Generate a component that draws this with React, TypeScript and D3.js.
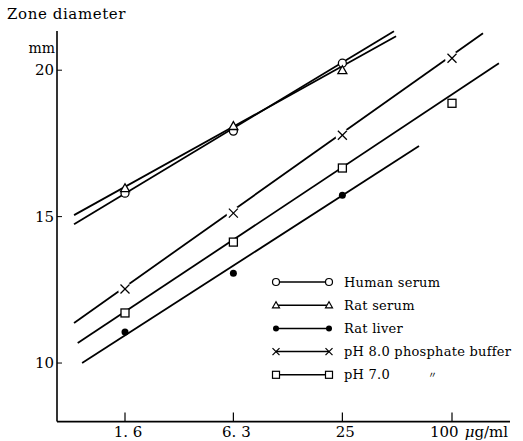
import React from "react";
import * as d3 from "d3";

// ---- data ----
const xTickValues = [1.6, 6.3, 25, 100];
const xTickLabels = ["1. 6", "6. 3", "25", "100"];
const yTickValues = [10, 15, 20];

const concentrations = [1.6, 6.3, 25, 100];
const humanSerum = [15.8, 17.92, 20.24];
const ratSerum = [15.97, 18.09, 20.0];
const ratLiver = [11.06, 13.07, 15.73];
const ph8Buffer = [12.53, 15.12, 17.78, 20.41];
const ph7Buffer = [11.71, 14.13, 16.66, 18.87];

// fitted (hand-drawn) regression lines: [concentration, diameter]
const humanSerumFit: [number, number][] = [[0.84, 14.74], [48, 21.33]];
const ratSerumFit: [number, number][] = [[0.84, 15.05], [49.3, 21.16]];
const ratLiverFit: [number, number][] = [[0.93, 10.0], [65.9, 17.41]];
const ph8Fit: [number, number][] = [[0.84, 11.37], [148, 21.26]];
const ph7Fit: [number, number][] = [[0.88, 10.68], [181, 20.24]];

const seriesNames = ["Human serum", "Rat serum", "Rat liver", "pH 8.0 phosphate buffer", "pH 7.0"];

type Marker = "circle" | "triangle" | "dot" | "cross" | "square";

const series: { name: string; values: number[]; fit: [number, number][]; marker: Marker }[] = [
  { name: seriesNames[0], values: humanSerum, fit: humanSerumFit, marker: "circle" },
  { name: seriesNames[1], values: ratSerum, fit: ratSerumFit, marker: "triangle" },
  { name: seriesNames[2], values: ratLiver, fit: ratLiverFit, marker: "dot" },
  { name: seriesNames[3], values: ph8Buffer, fit: ph8Fit, marker: "cross" },
  { name: seriesNames[4], values: ph7Buffer, fit: ph7Fit, marker: "square" },
];

const W = 523;
const H = 441;
const FONT = "'DejaVu Serif', 'Liberation Serif', serif";

const x = d3.scaleLog().domain([1.6, 100]).range([125, 452]);
const y = d3.scaleLinear().domain([8, 20]).range([421.6, 70.2]);

const axisLeft = 57;
const axisRight = 510;
const axisBottom = y(8);
const axisTop = 31;

function MarkerShape({ type, cx, cy }: { type: Marker; cx: number; cy: number }) {
  const sw = 1.3;
  switch (type) {
    case "circle":
      return <circle cx={cx} cy={cy} r={4} fill="#fff" stroke="#000" strokeWidth={sw} />;
    case "triangle": {
      const s = 4.5;
      const p = `${cx},${cy - s} ${cx - s},${cy + s * 0.75} ${cx + s},${cy + s * 0.75}`;
      return <polygon points={p} fill="#fff" stroke="#000" strokeWidth={sw} />;
    }
    case "dot":
      return <circle cx={cx} cy={cy} r={3.5} fill="#000" />;
    case "cross": {
      const s = 4.5;
      return (
        <g stroke="#000" strokeWidth={sw}>
          <circle cx={cx} cy={cy} r={7} fill="#fff" stroke="none" />
          <line x1={cx - s} y1={cy - s} x2={cx + s} y2={cy + s} />
          <line x1={cx - s} y1={cy + s} x2={cx + s} y2={cy - s} />
        </g>
      );
    }
    case "square":
      return <rect x={cx - 4} y={cy - 4} width={8} height={8} fill="#fff" stroke="#000" strokeWidth={sw} />;
  }
}

function LegendMarker({ type, cx, cy }: { type: Marker; cx: number; cy: number }) {
  const sw = 1.2;
  switch (type) {
    case "circle":
      return <circle cx={cx} cy={cy} r={3.5} fill="#fff" stroke="#000" strokeWidth={sw} />;
    case "triangle": {
      const s = 3.5;
      const p = `${cx},${cy - s} ${cx - s},${cy + s * 0.75} ${cx + s},${cy + s * 0.75}`;
      return <polygon points={p} fill="#fff" stroke="#000" strokeWidth={sw} />;
    }
    case "dot":
      return <circle cx={cx} cy={cy} r={3} fill="#000" />;
    case "cross": {
      const s = 3.5;
      return (
        <g stroke="#000" strokeWidth={sw}>
          <line x1={cx - s} y1={cy - s} x2={cx + s} y2={cy + s} />
          <line x1={cx - s} y1={cy + s} x2={cx + s} y2={cy - s} />
        </g>
      );
    }
    case "square":
      return <rect x={cx - 3.5} y={cy - 3.5} width={7} height={7} fill="#fff" stroke="#000" strokeWidth={sw} />;
  }
}

export default function App() {
  const line = d3
    .line<[number, number]>()
    .x((d) => x(d[0]))
    .y((d) => y(d[1]));

  const legendX1 = 276;
  const legendX2 = 329;
  const legendTextX = 344;
  const legendY0 = 282;
  const legendDy = 23.2;

  return (
    <svg
      width={W}
      height={H}
      viewBox={`0 0 ${W} ${H}`}
      style={{ position: "absolute", left: 0, top: 0, background: "#fff" }}
    >
      <rect width={W} height={H} fill="#fff" />

      {/* axes */}
      <line x1={axisLeft} y1={axisTop} x2={axisLeft} y2={axisBottom} stroke="#000" strokeWidth={1.6} />
      <line x1={axisLeft} y1={axisBottom} x2={axisRight} y2={axisBottom} stroke="#000" strokeWidth={1.8} />

      {/* y ticks */}
      {yTickValues.map((v) => (
        <g key={v}>
          <line x1={axisLeft} y1={y(v)} x2={axisLeft + 5} y2={y(v)} stroke="#000" strokeWidth={1} />
          <text x={axisLeft - 3} y={y(v)} dy="0.35em" textAnchor="end" fontFamily={FONT} fontSize={15} fill="#000">
            {v}
          </text>
        </g>
      ))}
      <text x={axisLeft - 2} y={53} textAnchor="end" fontFamily={FONT} fontSize={14} fill="#000">
        mm
      </text>
      <text x={7} y={19} fontFamily={FONT} fontSize={15} letterSpacing={0.6} fill="#000">
        Zone diameter
      </text>

      {/* x ticks */}
      {xTickValues.map((v, i) => (
        <g key={v}>
          <line x1={x(v)} y1={axisBottom} x2={x(v)} y2={axisBottom - 9} stroke="#000" strokeWidth={1.2} />
          <text
            x={i === 3 ? x(v) - 22 : x(v) + 3}
            y={437}
            textAnchor={i === 3 ? "start" : "middle"}
            fontFamily={FONT}
            fontSize={15}
            fill="#000"
          >
            {xTickLabels[i]}
            {i === 3 ? (
              <tspan dx={6} fontStyle="italic">
                μ
              </tspan>
            ) : null}
            {i === 3 ? <tspan>g/ml</tspan> : null}
          </text>
        </g>
      ))}

      {/* fitted lines */}
      {series.map((s) => (
        <path key={s.name + "fit"} d={line(s.fit) || ""} fill="none" stroke="#000" strokeWidth={1.8} />
      ))}

      {/* markers */}
      {series.map((s) =>
        s.values.map((v, i) => (
          <MarkerShape key={s.name + i} type={s.marker} cx={x(concentrations[i])} cy={y(v)} />
        ))
      )}

      {/* legend */}
      {series.map((s, i) => {
        const ly = legendY0 + i * legendDy;
        return (
          <g key={s.name + "leg"}>
            <line x1={legendX1} y1={ly} x2={legendX2} y2={ly} stroke="#000" strokeWidth={1.5} />
            <LegendMarker type={s.marker} cx={legendX1} cy={ly} />
            <LegendMarker type={s.marker} cx={legendX2} cy={ly} />
            <text x={legendTextX} y={ly} dy="0.35em" fontFamily={FONT} fontSize={13} letterSpacing={0.25} fill="#000">
              {s.name}
            </text>
          </g>
        );
      })}
      <text
        x={428}
        y={legendY0 + 4 * legendDy}
        dy="0.35em"
        fontFamily="'Noto Sans CJK JP', sans-serif"
        fontSize={9}
        fill="#000"
      >
        〃
      </text>
    </svg>
  );
}
